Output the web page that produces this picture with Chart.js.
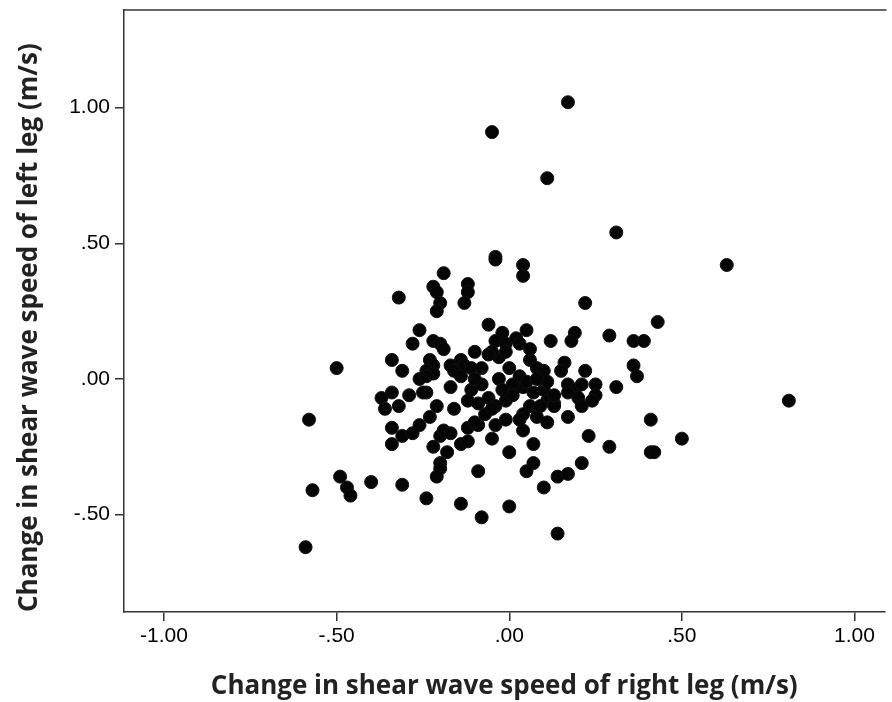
<!DOCTYPE html>
<html>
<head>
<meta charset="utf-8">
<script src="https://cdn.jsdelivr.net/npm/chart.js@4.4.0/dist/chart.umd.min.js"></script>
<style>
html,body{margin:0;padding:0;background:#fff;overflow:hidden;}
canvas{display:block;}
</style>
</head>
<body>
<canvas id="c" width="892" height="702"></canvas>
<script>
// Change in shear wave speed of right leg (x) and left leg (y), m/s
const rightLegChange = [
  0.17, -0.05, 0.11, 0.31, 0.63, 0.81, -0.04, -0.04, 0.04, 0.04,
  -0.19, -0.22, -0.12, -0.12, -0.13, -0.21, -0.20, -0.21, -0.32, 0.22,
  0.43, -0.06, 0.05, -0.26, 0.19, 0.18, 0.29, 0.36, 0.39, 0.12,
  -0.02, -0.04, -0.01, 0.02, 0.03, -0.03, -0.01, -0.05, -0.28, -0.22,
  -0.20, -0.19, -0.10, -0.06, -0.34, -0.50, -0.23, -0.22, -0.24, -0.22,
  -0.26, -0.24, -0.31, -0.17, -0.16, -0.14, -0.13, -0.11, -0.08, -0.14,
  -0.03, 0.00, 0.06, 0.08, 0.10, 0.16, 0.15, 0.22, 0.36, 0.37,
  0.03, 0.04, 0.02, 0.05, -0.17, -0.11, -0.12, -0.21, -0.24, -0.29,
  -0.25, -0.34, -0.37, -0.32, -0.36, -0.09, -0.06, -0.04, -0.01, 0.07,
  0.10, 0.11, 0.11, 0.13, 0.06, 0.04, 0.08, 0.03, 0.17, 0.19,
  0.21, 0.25, 0.17, 0.20, 0.25, 0.21, 0.31, 0.24, 0.13, 0.17,
  0.11, 0.04, -0.01, -0.07, -0.04, -0.09, -0.05, -0.34, -0.34, -0.31,
  -0.28, -0.26, -0.23, -0.22, -0.20, -0.19, -0.17, -0.18, -0.20, -0.20,
  -0.21, -0.12, -0.10, -0.14, -0.12, -0.05, 0.00, 0.07, 0.07, 0.05,
  -0.09, 0.10, 0.14, 0.17, 0.21, 0.23, 0.29, 0.41, 0.50, 0.41,
  0.42, -0.58, -0.57, -0.49, -0.47, -0.46, -0.40, -0.31, -0.24, -0.59,
  -0.14, -0.08, 0.00, 0.14, -0.16, 0.01, -0.02, 0.01, 0.08, 0.09,
  0.13, 0.06, -0.08, -0.10
];
const leftLegChange = [
  1.02, 0.91, 0.74, 0.54, 0.42, -0.08, 0.45, 0.44, 0.42, 0.38,
  0.39, 0.34, 0.35, 0.32, 0.28, 0.32, 0.28, 0.25, 0.30, 0.28,
  0.21, 0.20, 0.18, 0.18, 0.17, 0.14, 0.16, 0.14, 0.14, 0.14,
  0.17, 0.14, 0.13, 0.15, 0.13, 0.08, 0.10, 0.10, 0.13, 0.14,
  0.13, 0.11, 0.10, 0.09, 0.07, 0.04, 0.07, 0.05, 0.03, 0.02,
  0.00, 0.01, 0.03, 0.05, 0.03, 0.07, 0.05, 0.04, 0.04, 0.01,
  0.00, 0.04, 0.07, 0.04, 0.03, 0.06, 0.03, 0.03, 0.05, 0.01,
  0.01, -0.03, -0.03, -0.01, -0.03, -0.04, -0.08, -0.10, -0.05, -0.06,
  -0.05, -0.05, -0.07, -0.10, -0.11, -0.09, -0.07, -0.10, -0.08, -0.05,
  -0.04, -0.01, -0.08, -0.09, -0.10, -0.13, -0.14, -0.15, -0.02, -0.04,
  -0.02, -0.02, -0.05, -0.07, -0.06, -0.10, -0.03, -0.08, -0.10, -0.14,
  -0.16, -0.19, -0.15, -0.13, -0.17, -0.17, -0.11, -0.18, -0.24, -0.21,
  -0.20, -0.17, -0.14, -0.25, -0.21, -0.19, -0.20, -0.27, -0.31, -0.33,
  -0.36, -0.18, -0.16, -0.24, -0.23, -0.22, -0.27, -0.24, -0.31, -0.34,
  -0.34, -0.40, -0.36, -0.35, -0.31, -0.21, -0.25, -0.15, -0.22, -0.27,
  -0.27, -0.15, -0.41, -0.36, -0.40, -0.43, -0.38, -0.39, -0.44, -0.62,
  -0.46, -0.51, -0.47, -0.57, -0.11, -0.02, -0.04, -0.06, 0.00, -0.10,
  -0.06, 0.11, -0.02, 0.00
];

const xTickValues = [-1, -0.5, 0, 0.5, 1];
const xTickLabels = ['-1.00', '-.50', '.00', '.50', '1.00'];
const yTickValues = [-0.5, 0, 0.5, 1];
const yTickLabels = ['-.50', '.00', '.50', '1.00'];

const xTitle = 'Change in shear wave speed of right leg (m/s)';
const yTitle = 'Change in shear wave speed of left leg (m/s)';

const points = rightLegChange.map((x, i) => ({ x: x, y: leftLegChange[i] }));

const framePlugin = {
  id: 'frameTop',
  beforeDatasetsDraw(chart) {
    const { ctx, chartArea: a } = chart;
    ctx.save();
    ctx.strokeStyle = '#333';
    ctx.lineWidth = 1.5;
    ctx.beginPath();
    ctx.moveTo(a.left, a.top);
    ctx.lineTo(a.right + 2, a.top);
    ctx.stroke();
    ctx.restore();
  }
};

new Chart(document.getElementById('c'), {
  type: 'scatter',
  data: {
    datasets: [{
      data: points,
      pointRadius: 6.5,
      pointHoverRadius: 6.5,
      pointBackgroundColor: '#050505',
      pointBorderColor: '#111',
      pointBorderWidth: 1
    }]
  },
  plugins: [framePlugin],
  options: {
    responsive: false,
    animation: false,
    devicePixelRatio: 1,
    layout: { padding: { top: 10, left: 0, right: 0, bottom: 0 } },
    plugins: { legend: { display: false }, tooltip: { enabled: false } },
    scales: {
      x: {
        type: 'linear',
        position: 'bottom',
        min: -1.116,
        max: 1.087,
        afterBuildTicks: s => { s.ticks = xTickValues.map(v => ({ value: v })); },
        afterFit: s => { s.height = 90; s.paddingLeft = 0; s.paddingRight = 0; },
        ticks: {
          autoSkip: false,
          maxRotation: 0,
          padding: 3,
          color: '#000',
          font: { family: 'Liberation Sans', size: 21 },
          callback: v => xTickLabels[xTickValues.indexOf(v)]
        },
        grid: { drawOnChartArea: false, drawTicks: true, tickLength: 9, color: '#333', lineWidth: 1.5 },
        border: { display: true, color: '#333', width: 1.5 },
        title: {
          display: true,
          text: xTitle,
          color: '#222',
          font: { family: 'Open Sans', size: 26, weight: '700' },
          padding: { top: 0, bottom: 0 }
        }
      },
      y: {
        type: 'linear',
        position: 'left',
        min: -0.859,
        max: 1.36,
        afterBuildTicks: s => { s.ticks = yTickValues.map(v => ({ value: v })); },
        afterFit: s => { s.width = 124; s.paddingTop = 0; s.paddingBottom = 0; },
        ticks: {
          autoSkip: false,
          padding: 5,
          color: '#000',
          font: { family: 'Liberation Sans', size: 21 },
          callback: v => yTickLabels[yTickValues.indexOf(v)]
        },
        grid: { drawOnChartArea: false, drawTicks: true, tickLength: 9, color: '#333', lineWidth: 1.5 },
        border: { display: true, color: '#333', width: 1.5 },
        title: {
          display: true,
          align: 'start',
          text: yTitle,
          color: '#222',
          font: { family: 'Open Sans', size: 26, weight: '700' },
          padding: { top: 14, bottom: 0 }
        }
      }
    }
  }
});
</script>
</body>
</html>
